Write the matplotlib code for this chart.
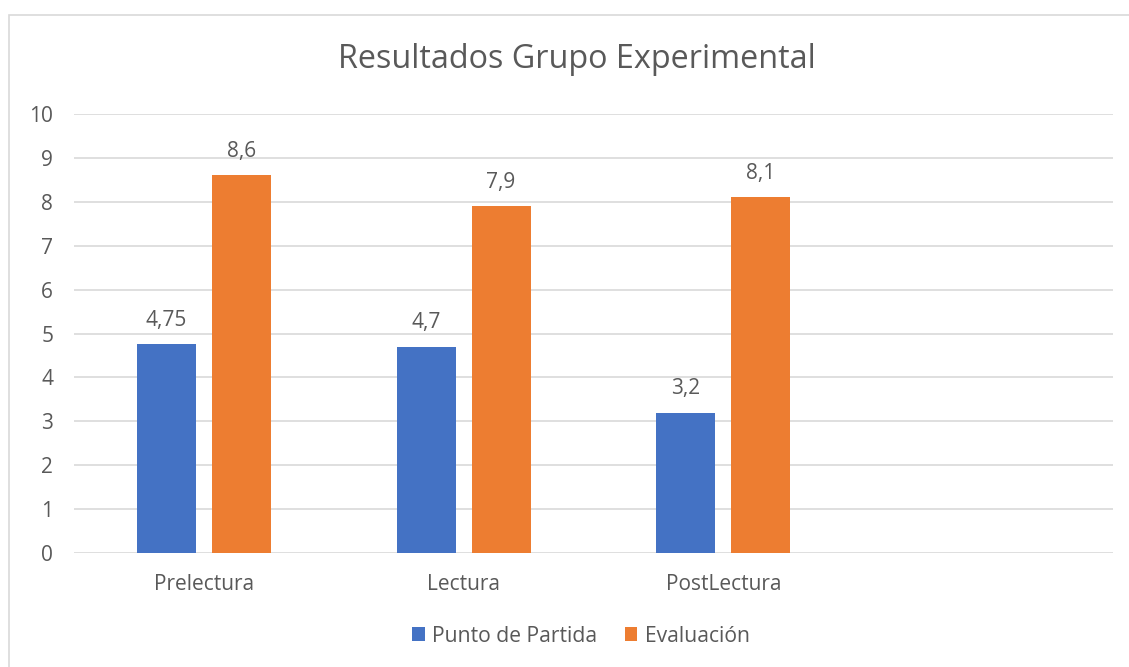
import matplotlib
matplotlib.use("Agg")
import matplotlib.pyplot as plt
from matplotlib.patches import Rectangle
import numpy as np

plt.rcParams['font.family'] = ['Open Sans', 'DejaVu Sans']

categories = ["Prelectura", "Lectura", "PostLectura", ""]
punto_de_partida = [4.75, 4.7, 3.2]
evaluacion = [8.6, 7.9, 8.1]
punto_labels = ["4,75", "4,7", "3,2"]
eval_labels = ["8,6", "7,9", "8,1"]
series_names = ["Punto de Partida", "Evaluación"]
title = "Resultados Grupo Experimental"

W, H = 1129, 667
fig = plt.figure(figsize=(W / 100, H / 100), dpi=100)
fig.patch.set_facecolor("white")

# chart border
fig.patches.append(Rectangle((9 / W, -0.1), 1.2, (H - 15) / H + 0.1, transform=fig.transFigure,
                             fill=False, edgecolor="#D9D9D9", linewidth=1.2))

ax = fig.add_axes([74 / W, (H - 553) / H, 1039 / W, (553 - 114) / H])
txt = "#595959"
blue = "#4472C4"
orange = "#ED7D31"

x = np.arange(len(punto_de_partida))
bw = 0.227
off = 0.144
b1 = ax.bar(x - off, punto_de_partida, bw, color=blue, label=series_names[0], zorder=3)
b2 = ax.bar(x + off, evaluacion, bw, color=orange, label=series_names[1], zorder=3)

for bars, labs in ((b1, punto_labels), (b2, eval_labels)):
    for rect, lab in zip(bars, labs):
        ax.annotate(lab, (rect.get_x() + rect.get_width() / 2, rect.get_height()),
                    xytext=(0, 9.5), textcoords="offset points", ha="center", va="bottom",
                    fontsize=15, color=txt)

ax.set_xlim(-0.5, len(categories) - 0.5)
ax.set_ylim(0, 10)
ax.set_yticks(range(0, 11))
ax.set_xticks(range(len(categories)))
ax.set_xticklabels(categories)
ax.tick_params(axis="both", length=0, labelsize=15, labelcolor=txt)
ax.tick_params(axis="y", pad=15)
ax.tick_params(axis="x", pad=15)
ax.grid(axis="y", color="#D9D9D9", linewidth=1.2, zorder=0)
for s in ax.spines.values():
    s.set_visible(False)
ax.set_facecolor("none")

fig.text(577 / W, 1 - 60 / H, title, ha="center", va="center", fontsize=23.3, color=txt)

leg = fig.legend(handles=[b1, b2], labels=series_names, loc="center",
                 bbox_to_anchor=(581 / W, 1 - 636 / H), ncol=2, frameon=False,
                 fontsize=15.2, labelcolor=txt, handlelength=0.6, handleheight=0.6,
                 handletextpad=0.35, columnspacing=1.3)

fig.savefig("out.png", dpi=100)
